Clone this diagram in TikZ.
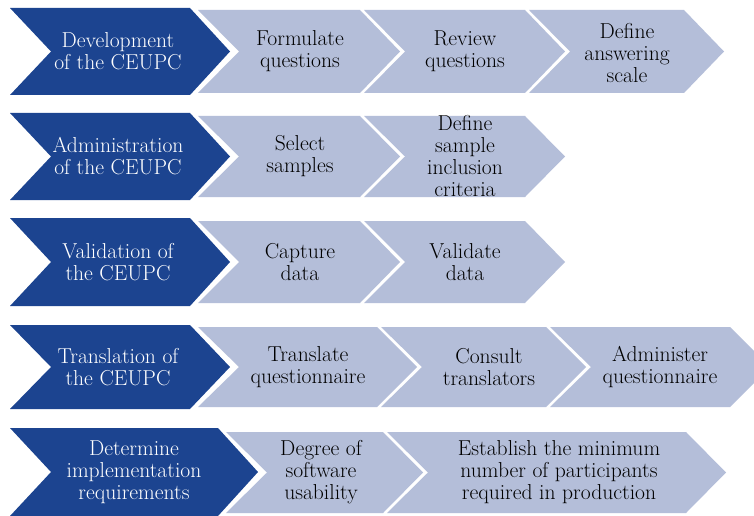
\documentclass[tikz,border=0pt]{standalone}
\definecolor{stagedark}{HTML}{1C4490}
\definecolor{steplight}{HTML}{B4BED9}
% chevron: #1 style, #2 left x, #3 right x (top corner), #4 top y, #5 bottom y
\newcommand\chevron[5]{%
  \path[#1] (#2,#4) -- (#3,#4) -- ({#3+40},{(#4+#5)/2}) -- (#3,#5) -- (#2,#5)
    -- ({#2+41},{(#4+#5)/2}) -- cycle;}
\tikzset{
  stagebox/.style={fill=stagedark},
  stepbox/.style={fill=steplight},
  stagetext/.style={text=white, align=center, inner sep=0pt,
    font=\rmfamily\fontsize{21.6}{22}\selectfont},
  steptext/.style={text=black, align=center, inner sep=0pt,
    font=\rmfamily\fontsize{21.6}{22}\selectfont},
}
\begin{document}
\begin{tikzpicture}[x=1pt,y=-1pt]
\useasboundingbox[fill=white] (0,0) rectangle (754,516);
\begin{scope}
\clip (0,0) rectangle (754,516);
% row 1
\chevron{stagebox}{10}{190}{8}{95}
\chevron{stepbox}{198}{360}{10}{93}
\chevron{stepbox}{364}{525}{10}{93}
\chevron{stepbox}{529}{684}{10}{93}
% row 2
\chevron{stagebox}{10}{190}{113}{200}
\chevron{stepbox}{198}{360}{116}{197}
\chevron{stepbox}{364}{525}{116}{197}
% row 3
\chevron{stagebox}{10}{190}{218}{306}
\chevron{stepbox}{198}{360}{221}{303}
\chevron{stepbox}{364}{525}{221}{303}
% row 4
\chevron{stagebox}{10}{190}{325}{409}
\chevron{stepbox}{198}{377}{327}{407}
\chevron{stepbox}{381}{546}{327}{407}
\chevron{stepbox}{550}{730}{327}{407}
% row 5
\chevron{stagebox}{10}{218}{428}{516}
\chevron{stepbox}{226}{383}{432}{513}
\chevron{stepbox}{387}{686}{432}{513}
\end{scope}
% labels
\node[stagetext] (s1) at (118,51.5) {Development\\of the CEUPC};
\node[steptext] (s1a) at (300,51.5) {Formulate\\questions};
\node[steptext] (s1b) at (465,51.5) {Review\\questions};
\node[steptext] (s1c) at (627,53) {Define\\answering\\scale};
\node[stagetext] (s2) at (118,156.5) {Administration\\of the CEUPC};
\node[steptext] (s2a) at (300,156.5) {Select\\samples};
\node[steptext] (s2b) at (465,156.5) {Define\\sample\\inclusion\\criteria};
\node[stagetext] (s3) at (118,262) {Validation of\\the CEUPC};
\node[steptext] (s3a) at (300,262) {Capture\\data};
\node[steptext] (s3b) at (465,262) {Validate\\data};
\node[stagetext] (s4) at (118,367) {Translation of\\the CEUPC};
\node[steptext] (s4a) at (308,367) {Translate\\questionnaire};
\node[steptext] (s4b) at (489,367) {Consult\\translators};
\node[steptext] (s4c) at (660,367) {Administer\\questionnaire};
\node[stagetext] (s5) at (134,472) {Determine\\implementation\\requirements};
\node[steptext] (s5a) at (321,472) {Degree of\\software\\usability};
\node[steptext] (s5b) at (559,472) {Establish the minimum\\number of participants\\required in production};
\end{tikzpicture}
\end{document}
